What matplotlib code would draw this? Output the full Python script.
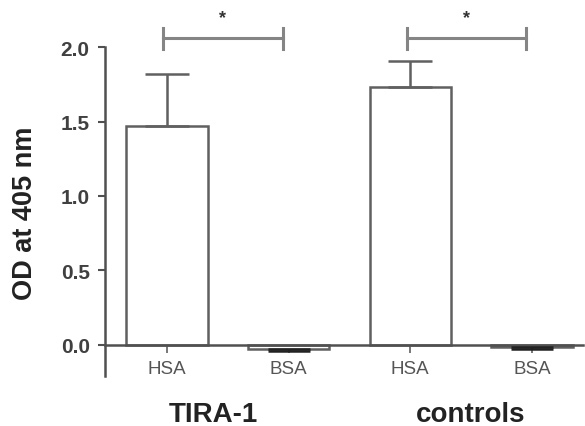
import matplotlib
matplotlib.use("Agg")
import matplotlib.pyplot as plt

plt.rcParams['font.family'] = ['Liberation Sans', 'DejaVu Sans']

categories = ["HSA", "BSA", "HSA", "BSA"]
values = [1.47, -0.027, 1.73, -0.018]
err_up = [0.35, 0.0, 0.18, 0.0]
err_down = [0.0, 0.013, 0.0, 0.012]
groups = ["TIRA-1", "controls"]
sig_pairs = [(0, 1), (2, 3)]
sig_labels = ["*", "*"]
yticks = [0.0, 0.5, 1.0, 1.5, 2.0]

fig = plt.figure(figsize=(5.85, 4.27), dpi=100)
ax = fig.add_axes([105/585, 50/427, 478/585, 366/427])

xs = list(range(len(categories)))
edge = '#606060'
ax.bar(xs, values, width=0.67, color='white', edgecolor=edge, linewidth=1.8, zorder=2)

for x, v, eu, ed in zip(xs, values, err_up, err_down):
    if eu > 0:
        ax.errorbar([x], [v], yerr=[[0], [eu]], fmt='none', ecolor=edge,
                    elinewidth=1.8, capsize=15.5, capthick=1.8, zorder=3)
    if ed > 0:
        ax.errorbar([x], [v], yerr=[[ed], [0]], fmt='none', ecolor='#222222',
                    elinewidth=1.8, capsize=15, capthick=1.8, zorder=3)

ax.set_xlim(-0.51, 3.42)
ax.set_ylim(-0.21, 2.25)
for s in ['top', 'right']:
    ax.spines[s].set_visible(False)
ax.spines['bottom'].set_position(('data', 0))
ax.spines['left'].set_bounds(-0.21, 2.0)
for s in ['left', 'bottom']:
    ax.spines[s].set_color('#505050')
    ax.spines[s].set_linewidth(1.8)

ax.set_yticks(yticks)
ax.set_yticklabels([f"{t:.1f}" for t in yticks], fontsize=15, fontweight='bold', color='#404040')
ax.set_xticks(xs)
ax.set_xticklabels(categories, fontsize=13.5, color='#555555')
ax.tick_params(axis='y', length=5, width=1.5, color='#505050', pad=6)
ax.tick_params(axis='x', length=6, width=1.2, color='#606060', pad=5)

# significance brackets
bc = '#858585'
for (a, b), lab in zip(sig_pairs, sig_labels):
    xa, xb = a - 0.03, b - 0.05
    ax.plot([xa, xb], [2.06, 2.06], color=bc, lw=2.2, clip_on=False, zorder=4)
    ax.plot([xa, xa], [1.99, 2.13], color=bc, lw=2.2, clip_on=False, zorder=4)
    ax.plot([xb, xb], [1.99, 2.13], color=bc, lw=2.2, clip_on=False, zorder=4)
    ax.text((xa + xb) / 2, 2.20, lab, ha='center', va='center', fontsize=13,
            fontweight='bold', color='#333333', clip_on=False)

# group labels
fig.text(213/585, 5/427, groups[0], ha='center', va='baseline', fontsize=20,
         fontweight='bold', color='#222222')
fig.text(471/585, 5/427, groups[1], ha='center', va='baseline', fontsize=20,
         fontweight='bold', color='#222222')

fig.text(25/585, 1 - 213/427, "OD at 405 nm", rotation=90, ha='center', va='center',
         fontsize=19.5, fontweight='bold', color='#222222')

fig.savefig("out.png", dpi=100)
